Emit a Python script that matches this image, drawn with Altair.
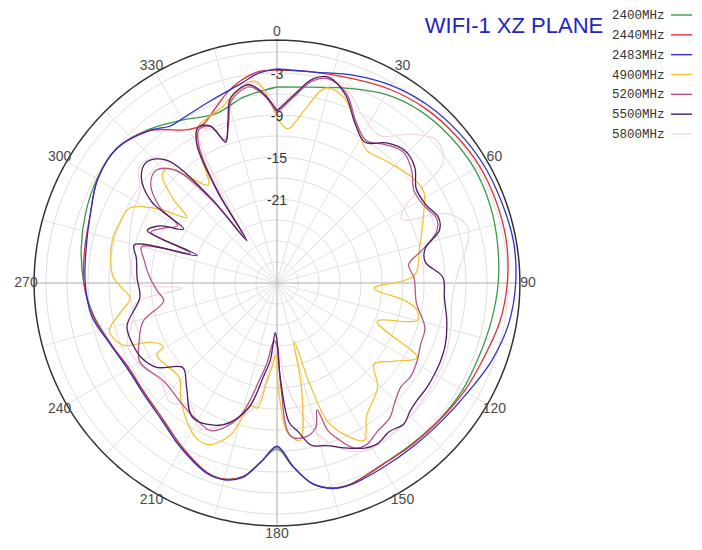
import altair as alt
import pandas as pd
import numpy as np

TITLE = "WIFI-1 XZ PLANE"
SERIES = ["2400MHz", "2440MHz", "2483MHz", "4900MHz", "5200MHz", "5500MHz", "5800MHz"]
COLORS = ["#3a9a4a", "#e0303a", "#3030c8", "#f2c230", "#b5548e", "#4e1c60", "#f6d6e4"]

ANG_2400 = [0,10,20,30,40,50,60,70,80,90,100,110,120,130,140,150,160,165,170,175,180,185,190,195,200,210,220,230,240,250,260,270,280,290,300,310,320,330,340,350,360]
DB_2400 = [-5.0,-4.6,-3.4,-1.9,-1.0,-0.6,-0.4,-0.6,-1.0,-1.4,-1.9,-2.3,-2.4,-2.7,-3.0,-3.0,-2.4,-2.7,-3.9,-6.6,-9.3,-7.4,-4.9,-4.0,-4.1,-5.9,-7.6,-8.4,-8.4,-7.7,-6.4,-5.4,-4.6,-3.9,-3.3,-3.1,-4.4,-6.1,-7.3,-6.0,-5.0]

ANG_2440 = [0,10,20,30,40,50,60,70,80,90,100,110,120,130,140,150,160,165,170,175,180,185,190,195,200,210,220,230,240,250,260,270,280,290,300,310,320,330,335,340,345,350,355,360]
DB_2440 = [-2.6,-2.4,-1.9,-1.0,-0.3,0.1,0.4,0.4,0.3,-0.1,-0.7,-1.6,-2.1,-2.6,-2.9,-3.0,-2.4,-2.7,-3.9,-6.7,-9.6,-7.4,-4.9,-4.0,-4.1,-5.9,-7.6,-8.4,-8.6,-7.7,-6.3,-5.4,-5.1,-4.6,-3.4,-3.1,-4.6,-7.7,-8.0,-6.7,-5.0,-3.6,-2.7,-2.6]

ANG_2483 = [0,10,20,30,40,50,60,70,80,90,100,110,120,130,140,150,160,165,170,175,180,185,190,195,200,210,220,230,240,250,260,270,280,290,300,310,320,326,330,340,350,355,360]
DB_2483 = [-2.4,-2.4,-1.4,-0.4,0.3,0.7,1.0,1.1,1.3,1.1,0.6,-0.4,-1.6,-2.3,-2.6,-2.6,-2.3,-2.6,-3.9,-6.7,-9.7,-7.4,-4.8,-3.9,-4.0,-5.7,-7.4,-8.2,-8.4,-7.6,-6.1,-5.6,-5.3,-4.6,-3.4,-3.1,-4.6,-5.9,-5.9,-5.3,-4.0,-2.9,-2.4]

ANG_4900 = [0,4,9,14,20,28,34,42,51,58,65,76,87,93,98,101,105,111,118,124,130,136,146,151,156,160,162,163.7,167,171.7,176,179,181,183,186,189,192,197,203,208,213,220,226,233,239,241,245,248,254,259,264,268,272,278,285,292,297,302,306,309,313,316,320,325,330,333,338,343,348,354,360]
DB_4900 = [-9.4,-10.9,-8.0,-4.3,-4.9,-8.3,-10.1,-9.6,-8.6,-8.3,-9.9,-12.0,-13.4,-19.1,-14.4,-12.6,-12.3,-17.7,-10.3,-13.0,-14.9,-12.3,-10.1,-7.3,-9.3,-12.0,-17.7,-24.4,-17.3,-10.3,-11.6,-17.3,-22.7,-21.3,-18.7,-14.9,-15.1,-10.3,-7.9,-8.1,-9.4,-11.6,-13.6,-13.3,-13.0,-14.4,-13.0,-9.3,-8.1,-10.1,-11.9,-10.9,-9.6,-9.0,-8.7,-9.0,-9.4,-13.0,-17.1,-13.9,-10.6,-10.3,-13.0,-15.9,-10.1,-8.0,-7.3,-6.6,-5.1,-4.0,-9.4]

ANG_5200 = [0,5,10,14,20,26,32,38,44,50,56,62,68,72,77,82,88,98,107,113,119,125,130,136,140,146,151,155,159,161,162.5,165,170,175,178,180,183,187,190,196,204,211,218,229,240,247,254,261,266,272,280,285,289,292,296,300,303,308,313,318,322,324.5,327,330,333,337,340,343,346,352,356,360]
DB_5200 = [-8.7,-6.4,-3.7,-2.9,-4.1,-7.3,-9.0,-7.9,-7.0,-7.9,-9.4,-9.3,-8.4,-9.0,-11.6,-14.0,-13.4,-12.9,-10.9,-10.7,-10.1,-9.7,-9.9,-8.9,-7.9,-7.4,-6.6,-7.0,-9.3,-10.7,-14.0,-11.6,-10.6,-11.1,-18.7,-24.1,-24.7,-21.6,-19.1,-12.9,-9.9,-10.4,-11.0,-11.6,-10.4,-11.6,-13.1,-16.6,-15.9,-14.9,-13.7,-13.0,-19.9,-13.6,-15.1,-16.6,-13.0,-10.1,-9.4,-11.3,-18.0,-25.1,-18.0,-10.9,-8.4,-8.7,-11.3,-9.3,-6.1,-4.7,-6.1,-8.7]

ANG_5500 = [0,5,10,14,20,26,32,38,44,50,56,62,68,72,77,82,88,95,103,110,116,120,125,130,134,138,143,148,152,158,163,168,172,175,178,180,182,185,188,193,201,212,221,228,235,241,247,254,264,272,280,285,289,292,296,300,303,308,313,318,322,324.5,327,330,333,337,340,343,346,352,356,360]
DB_5500 = [-8.4,-6.1,-3.4,-2.7,-4.4,-7.6,-9.3,-7.6,-6.7,-7.3,-9.0,-9.0,-8.1,-8.6,-11.3,-11.6,-9.3,-9.0,-8.1,-7.4,-7.1,-7.0,-6.9,-6.9,-6.6,-5.9,-6.4,-5.9,-6.3,-7.6,-8.7,-9.3,-11.6,-13.0,-19.4,-24.7,-25.9,-21.9,-19.7,-14.6,-11.3,-10.3,-13.3,-14.9,-12.0,-10.9,-10.6,-10.7,-13.3,-13.0,-12.6,-11.9,-20.9,-13.0,-14.4,-17.6,-11.6,-8.4,-7.6,-9.4,-17.3,-25.6,-17.3,-10.1,-8.1,-8.6,-11.6,-9.0,-5.7,-4.4,-5.9,-8.4]

ANG_5800 = [0,5,12,20,28,35,42,48,54,59,63,68,74,80,86,95,105,115,125,135,145,152,158,164,170,175,180,184,190,200,208,215,222,230,240,248,255,262,267,270,280,288,296,304,310,316,321,325,329,333,338,342,347,352,356,360]
DB_5800 = [-7.9,-5.9,-3.0,-3.7,-6.4,-7.3,-4.4,-2.4,-3.7,-11.6,-13.0,-6.6,-4.6,-5.6,-7.0,-7.9,-7.3,-6.7,-6.4,-6.1,-5.7,-5.9,-7.3,-10.1,-14.4,-18.7,-24.1,-21.6,-15.1,-11.6,-9.4,-11.6,-10.1,-11.3,-10.1,-9.9,-11.6,-12.7,-19.4,-13.0,-11.6,-10.9,-10.1,-9.4,-7.3,-8.0,-17.3,-23.0,-15.9,-8.4,-9.4,-9.4,-5.6,-4.0,-5.1,-7.9]

RING_DB = [-30, -27, -24, -21, -18, -15, -12, -9, -6, -3, 0]
RADIAL_LABELS = [-3, -9, -15, -21]
ANGLE_LABELS = list(range(0, 360, 30))
SPOKES = list(range(0, 360, 15))
AXES = [0, 90]

RMIN = -33.0      # dB at the centre
OUTER_DB = 1.7    # outer black circle
LABEL_DB = 2.86   # ring on which angle labels sit

W, H = 686, 534
XDOM = [-38.4286, 59.5714]
YDOM = [-37.0, 39.2857]
FONT = "Liberation Sans"

X = alt.X("px:Q", scale=alt.Scale(domain=XDOM, nice=False, zero=False), axis=None)
Y = alt.Y("py:Q", scale=alt.Scale(domain=YDOM, nice=False, zero=False), axis=None)


def polar(ch):
    return ch.transform_calculate(
        u=f"datum.db - ({RMIN})"
    ).transform_calculate(
        px="datum.u * sin(datum.angle * PI / 180)",
        py="datum.u * cos(datum.angle * PI / 180)",
    )


# grid rings
circ = np.arange(0, 361, 2)
ring_df = pd.DataFrame([(r, a) for r in RING_DB for a in circ], columns=["db", "angle"])
rings = polar(alt.Chart(ring_df).mark_line(stroke="#dedede", strokeWidth=1)).encode(
    x=X, y=Y, detail="db:N", order="angle:Q")

outer_df = pd.DataFrame({"angle": np.arange(0, 361, 1), "db": OUTER_DB})
outer = polar(alt.Chart(outer_df).mark_line(stroke="#333333", strokeWidth=1.5)).encode(
    x=X, y=Y, order="angle:Q")

# spokes
spoke_df = pd.DataFrame({"angle": SPOKES})
spokes = alt.Chart(spoke_df).mark_rule(stroke="#e2e2e2", strokeWidth=1).transform_calculate(
    u=f"{OUTER_DB} - ({RMIN})"
).transform_calculate(
    px="datum.u * sin(datum.angle * PI / 180)",
    py="datum.u * cos(datum.angle * PI / 180)",
    x0="0", y0="0",
).encode(x=alt.X("x0:Q", scale=alt.Scale(domain=XDOM, nice=False, zero=False), axis=None),
         y=alt.Y("y0:Q", scale=alt.Scale(domain=YDOM, nice=False, zero=False), axis=None),
         x2="px:Q", y2="py:Q")

axes_df = pd.DataFrame({"angle": AXES})
axes = alt.Chart(axes_df).mark_rule(stroke="#b8b8b8", strokeWidth=1).transform_calculate(
    u=f"{OUTER_DB} - ({RMIN})"
).transform_calculate(
    px="datum.u * sin(datum.angle * PI / 180)",
    py="datum.u * cos(datum.angle * PI / 180)",
    qx="-datum.u * sin(datum.angle * PI / 180)",
    qy="-datum.u * cos(datum.angle * PI / 180)",
).encode(x=alt.X("qx:Q", scale=alt.Scale(domain=XDOM, nice=False, zero=False), axis=None),
         y=alt.Y("qy:Q", scale=alt.Scale(domain=YDOM, nice=False, zero=False), axis=None),
         x2="px:Q", y2="py:Q")

# angle labels
alab_df = pd.DataFrame({"angle": ANGLE_LABELS, "db": LABEL_DB, "txt": [str(a) for a in ANGLE_LABELS]})
alabels = polar(alt.Chart(alab_df).mark_text(font=FONT, fontSize=14, color="#4a4a4a",
                                             align="center", baseline="middle")).encode(
    x=X, y=Y, text="txt:N")

# radial labels
rlab_df = pd.DataFrame({"angle": 0, "db": RADIAL_LABELS, "txt": [str(v) for v in RADIAL_LABELS]})
rlabels = polar(alt.Chart(rlab_df).mark_text(font=FONT, fontSize=14, color="#333333",
                                             align="center", baseline="middle", dy=2)).encode(
    x=X, y=Y, text="txt:N")

color_scale = alt.Scale(domain=SERIES, range=COLORS)
data = {
    "2400MHz": (ANG_2400, DB_2400),
    "2440MHz": (ANG_2440, DB_2440),
    "2483MHz": (ANG_2483, DB_2483),
    "4900MHz": (ANG_4900, DB_4900),
    "5200MHz": (ANG_5200, DB_5200),
    "5500MHz": (ANG_5500, DB_5500),
    "5800MHz": (ANG_5800, DB_5800),
}
draw_order = ["5800MHz", "2400MHz", "2440MHz", "2483MHz", "4900MHz", "5200MHz", "5500MHz"]
curve_layers = []
for s in draw_order:
    a, d = data[s]
    df = pd.DataFrame({"angle": a, "db": d, "series": s})
    curve_layers.append(
        polar(alt.Chart(df).mark_line(strokeWidth=1.3, interpolate="catmull-rom")).encode(
            x=X, y=Y, order="angle:Q",
            color=alt.Color("series:N", scale=color_scale, legend=None))
    )

polar_chart = alt.layer(rings, spokes, axes, outer, *curve_layers, alabels, rlabels)

# title
title_df = pd.DataFrame({"t": [TITLE]})
title = alt.Chart(title_df).mark_text(
    font="Liberation Sans Narrow, Liberation Sans", fontSize=22, color="#2424c4",
    align="center", baseline="middle").encode(
    x=alt.value(506), y=alt.value(18), text="t:N")

# legend
leg_df = pd.DataFrame({"series": SERIES})
LY = alt.Y("series:N", scale=alt.Scale(type="point", domain=SERIES, range=[7, 126], padding=0), axis=None)
leg_text = alt.Chart(leg_df).mark_text(font="Liberation Mono", fontSize=12.5, color="#333333",
                                        align="left", baseline="middle").encode(
    x=alt.value(604), y=LY, text="series:N")
leg_rule = alt.Chart(leg_df).mark_rule(strokeWidth=1.4).encode(
    x=alt.value(663), x2=alt.value(684), y=LY,
    color=alt.Color("series:N", scale=color_scale, legend=None))
legend = alt.layer(leg_text, leg_rule)

chart = alt.layer(polar_chart, legend, title).resolve_scale(y="independent").properties(
    width=W, height=H, padding=0, autosize="none"
).configure_view(stroke=None)

chart.save("out.html", embed_options={"renderer": "svg", "actions": False})
